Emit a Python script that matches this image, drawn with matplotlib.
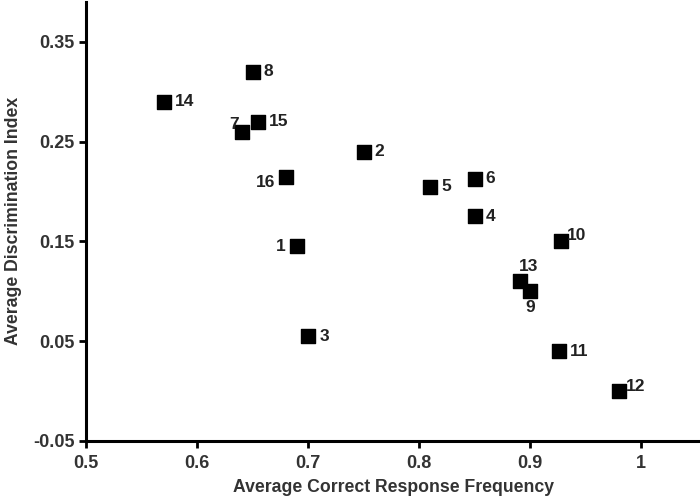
import matplotlib
import matplotlib.pyplot as plt

matplotlib.use("Agg")

plt.rcParams["font.family"] = ["Liberation Sans", "DejaVu Sans"]
plt.rcParams["font.weight"] = "bold"

items = ["1", "2", "3", "4", "5", "6", "7", "8", "9", "10", "11", "12", "13", "14", "15", "16"]
correct_freq = [0.69, 0.75, 0.70, 0.85, 0.81, 0.85, 0.64, 0.65, 0.90, 0.928, 0.926, 0.98, 0.891, 0.57, 0.655, 0.68]
discrimination = [0.145, 0.24, 0.055, 0.175, 0.205, 0.213, 0.26, 0.32, 0.10, 0.15, 0.04, 0.0, 0.11, 0.29, 0.27, 0.215]

# label offsets in points (dx, dy) and alignment
label_pos = {
    "1": (-8, 0, "right", "center"),
    "7": (-2, 5, "right", "center"),
    "16": (-8, -4, "right", "center"),
    "13": (6, 5, "center", "bottom"),
    "9": (0, -6, "center", "top"),
    "10": (4, 4, "left", "center"),
    "12": (5, 3, "left", "center"),
}

fig, ax = plt.subplots(figsize=(7.0, 4.97), dpi=100)
fig.subplots_adjust(left=0.123, right=1.0, bottom=0.113, top=0.996)

ax.scatter(correct_freq, discrimination, marker="s", s=110, color="black", zorder=3)

for name, x, y in zip(items, correct_freq, discrimination):
    dx, dy, ha, va = label_pos.get(name, (8, 0, "left", "center"))
    ax.annotate(name, (x, y), xytext=(dx, dy), textcoords="offset points",
                ha=ha, va=va, fontsize=12.5, fontweight="bold", color="#222222")

ax.set_xlim(0.5, 1.053)
ax.set_ylim(-0.05, 0.39)
ax.set_xticks([0.5, 0.6, 0.7, 0.8, 0.9, 1.0])
ax.set_xticklabels(["0.5", "0.6", "0.7", "0.8", "0.9", "1"])
ax.set_yticks([-0.05, 0.05, 0.15, 0.25, 0.35])
ax.set_yticklabels(["-0.05", "0.05", "0.15", "0.25", "0.35"])

for side in ("top", "right"):
    ax.spines[side].set_visible(False)
for side in ("left", "bottom"):
    ax.spines[side].set_linewidth(2.2)
ax.tick_params(width=2, length=5, labelsize=13, colors="black", labelcolor="#333333")
ax.tick_params(axis="x", pad=5)

ax.set_xlabel("Average Correct Response Frequency", fontsize=12.7, fontweight="bold",
              color="#333333", labelpad=5)
ax.set_ylabel("Average Discrimination Index", fontsize=12.7, fontweight="bold",
              color="#333333", labelpad=8)

fig.savefig("out.png")
plt.close(fig)
